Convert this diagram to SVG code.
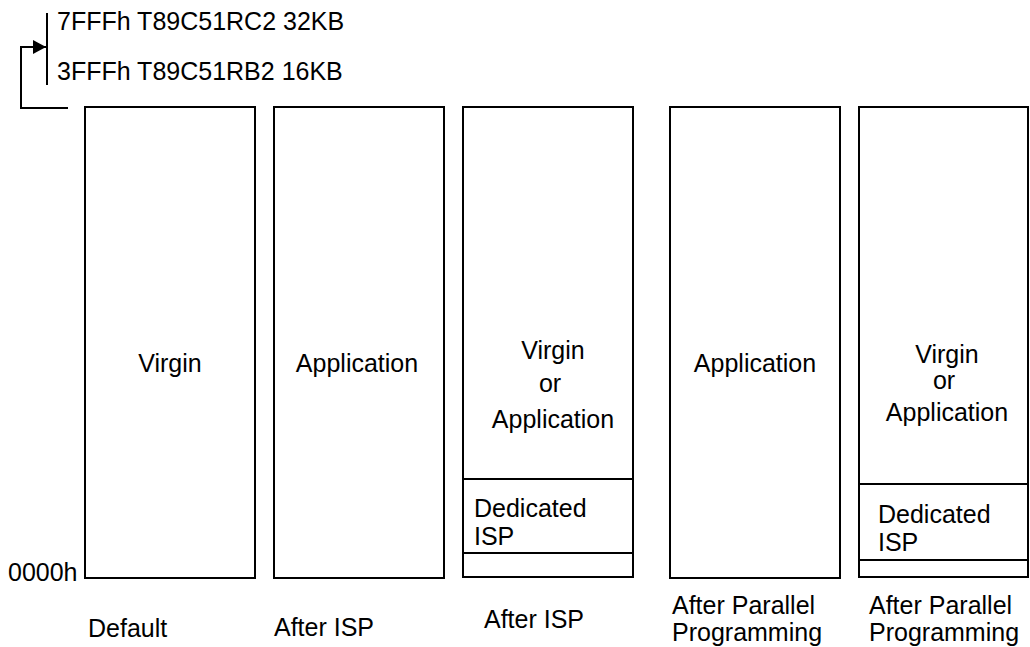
<svg xmlns="http://www.w3.org/2000/svg" width="1030" height="647" viewBox="0 0 1030 647">
<style>
.t{font-family:"Liberation Sans",Arial,sans-serif;font-size:25px;fill:#000}
.c{text-anchor:middle}
.b{fill:none;stroke:#000;stroke-width:2}
</style>
<defs>
<marker id="ah" markerWidth="13" markerHeight="14" refX="13" refY="7" orient="auto" markerUnits="userSpaceOnUse">
<path d="M0,0 L13,7 L0,14 z" fill="#000"/>
</marker>
</defs>
<rect width="1030" height="647" fill="#fff"/>
<g id="connectors">
<line class="b" x1="47" y1="13" x2="47" y2="85"/>
<polyline class="b" points="68,108 21,108 21,47 46,47" marker-end="url(#ah)"/>
</g>
<g id="labels-top">
<text class="t" x="57" y="30">7FFFh T89C51RC2 32KB</text>
<text class="t" x="57" y="80">3FFFh T89C51RB2 16KB</text>
<text class="t" x="8" y="581">0000h</text>
</g>
<g id="col1">
<rect class="b" x="85" y="107" width="170" height="471"/>
<text class="t c" x="170" y="372">Virgin</text>
<text class="t" x="88" y="637">Default</text>
</g>
<g id="col2">
<rect class="b" x="274" y="107" width="170" height="471"/>
<text class="t c" x="357" y="372">Application</text>
<text class="t" x="274" y="636">After ISP</text>
</g>
<g id="col3">
<rect class="b" x="463" y="107" width="170" height="470"/>
<line class="b" x1="463" y1="479" x2="633" y2="479"/>
<line class="b" x1="463" y1="553" x2="633" y2="553"/>
<text class="t c" x="553" y="359">Virgin</text>
<text class="t c" x="550" y="392">or</text>
<text class="t c" x="553" y="428">Application</text>
<text class="t" x="474" y="517">Dedicated</text>
<text class="t" x="474" y="545">ISP</text>
<text class="t" x="484" y="628">After ISP</text>
</g>
<g id="col4">
<rect class="b" x="670" y="107" width="170" height="471"/>
<text class="t c" x="755" y="372">Application</text>
<text class="t" x="672" y="614">After Parallel</text>
<text class="t" x="672" y="641">Programming</text>
</g>
<g id="col5">
<rect class="b" x="859" y="107" width="169" height="470"/>
<line class="b" x1="859" y1="484" x2="1028" y2="484"/>
<line class="b" x1="859" y1="560" x2="1028" y2="560"/>
<text class="t c" x="947" y="363">Virgin</text>
<text class="t c" x="944" y="389">or</text>
<text class="t c" x="947" y="421">Application</text>
<text class="t" x="878" y="523">Dedicated</text>
<text class="t" x="878" y="551">ISP</text>
<text class="t" x="869" y="614">After Parallel</text>
<text class="t" x="869" y="641">Programming</text>
</g>
</svg>
